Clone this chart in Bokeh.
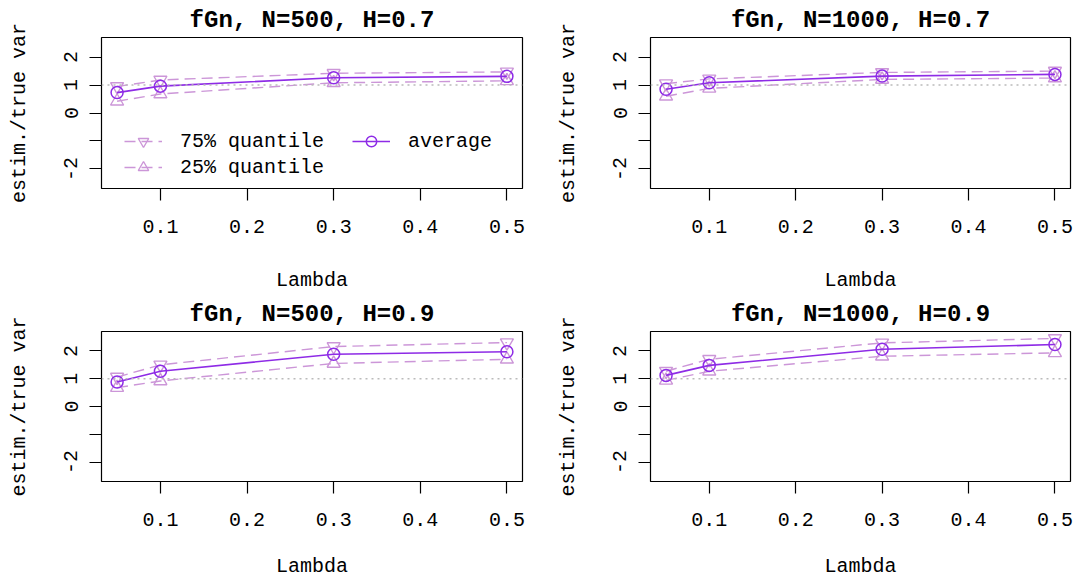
from bokeh.plotting import figure
from bokeh.layouts import gridplot
from bokeh.models import FixedTicker, Span, Legend, LegendItem, Range1d
from bokeh.embed import file_html
from bokeh.resources import INLINE

# ---------------- data ----------------
lam = [0.05, 0.1, 0.3, 0.5]
titles = ["fGn, N=500, H=0.7", "fGn, N=1000, H=0.7",
          "fGn, N=500, H=0.9", "fGn, N=1000, H=0.9"]

avg_500_07 = [0.73, 0.96, 1.26, 1.31]
q75_500_07 = [0.95, 1.18, 1.42, 1.47]
q25_500_07 = [0.42, 0.68, 1.08, 1.15]

avg_1000_07 = [0.85, 1.08, 1.32, 1.38]
q75_1000_07 = [1.05, 1.22, 1.45, 1.50]
q25_1000_07 = [0.60, 0.88, 1.20, 1.25]

avg_500_09 = [0.88, 1.27, 1.88, 1.97]
q75_500_09 = [1.06, 1.50, 2.16, 2.30]
q25_500_09 = [0.68, 0.92, 1.55, 1.70]

avg_1000_09 = [1.12, 1.48, 2.06, 2.23]
q75_1000_09 = [1.27, 1.70, 2.29, 2.45]
q25_1000_09 = [0.94, 1.27, 1.81, 1.93]

x_ticks = [0.1, 0.2, 0.3, 0.4, 0.5]
y_ticks = [-2, -1, 0, 1, 2]
y_tick_labels = {-2: "-2", -1: "", 0: "0", 1: "1", 2: "2"}
ref_level = 1

FONT = "Liberation Mono"
AVG_COL = "#8E2BE6"
Q_COL = "#CC96D8"

panels = [
    (titles[0], avg_500_07, q75_500_07, q25_500_07),
    (titles[1], avg_1000_07, q75_1000_07, q25_1000_07),
    (titles[2], avg_500_09, q75_500_09, q25_500_09),
    (titles[3], avg_1000_09, q75_1000_09, q25_1000_09),
]

# layout (frame positions)
geo = [
    dict(width=538, height=294, left=101, right=16, top=36, bottom=106, lab_so=33),
    dict(width=539, height=294, left=112, right=7, top=36, bottom=106, lab_so=33),
    dict(width=538, height=286, left=101, right=16, top=36, bottom=99, lab_so=26),
    dict(width=539, height=286, left=112, right=7, top=36, bottom=99, lab_so=26),
]

figs = []
for i, (ttl, avg, q75, q25) in enumerate(panels):
    g = geo[i]
    p = figure(width=g["width"], height=g["height"], output_backend="svg",
               toolbar_location=None, tools="",
               x_range=Range1d(0.032, 0.518), y_range=Range1d(-2.7, 2.7),
               min_border_left=g["left"], min_border_right=g["right"],
               min_border_top=g["top"], min_border_bottom=g["bottom"])
    p.title.text = ttl
    p.title.text_font = FONT
    p.title.text_font_size = "24px"
    p.title.text_font_style = "bold"
    p.title.align = "center"
    p.title.standoff = 8
    p.title.text_color = "black"
    p.grid.visible = False
    p.outline_line_color = "black"
    p.outline_line_width = 1.2
    p.background_fill_color = "white"
    p.border_fill_color = "white"

    p.xaxis.ticker = FixedTicker(ticks=x_ticks)
    p.yaxis.ticker = FixedTicker(ticks=y_ticks)
    p.yaxis.major_label_overrides = y_tick_labels
    p.yaxis.major_label_orientation = "vertical"
    for ax in (p.xaxis[0], p.yaxis[0]):
        ax.axis_line_color = None
        ax.major_tick_in = 0
        ax.major_tick_out = 12
        ax.major_tick_line_color = "black"
        ax.major_tick_line_width = 1.2
        ax.minor_tick_line_color = None
        ax.major_label_text_font = FONT
        ax.major_label_text_font_size = "20px"
        ax.major_label_text_color = "black"
        ax.axis_label_text_font = FONT
        ax.axis_label_text_font_size = "20px"
        ax.axis_label_text_font_style = "normal"
        ax.axis_label_text_color = "black"
    p.xaxis.axis_label = "Lambda"
    p.xaxis.major_label_standoff = 19
    p.xaxis.axis_label_standoff = g["lab_so"]
    p.yaxis.axis_label = "estim./true var"
    p.yaxis.major_label_standoff = 12
    p.yaxis.axis_label_standoff = 31

    p.add_layout(Span(location=ref_level, dimension="width",
                      line_color="#BBBBBB", line_dash="2 4", line_width=1.5))

    l75 = p.line(lam, q75, line_color=Q_COL, line_dash="11 6", line_width=1.4)
    s75 = p.scatter(lam, q75, marker="inverted_triangle", size=13,
                    fill_color=None, line_color=Q_COL, line_width=1.4)
    l25 = p.line(lam, q25, line_color=Q_COL, line_dash="11 6", line_width=1.4)
    s25 = p.scatter(lam, q25, marker="triangle", size=13,
                    fill_color=None, line_color=Q_COL, line_width=1.4)
    la = p.line(lam, avg, line_color=AVG_COL, line_width=1.6)
    sa = p.scatter(lam, avg, marker="circle", size=12,
                   fill_color=None, line_color=AVG_COL, line_width=1.5)

    if i == 0:
        common = dict(border_line_color=None, background_fill_alpha=0,
                      padding=0, margin=0, spacing=0,
                      label_text_font=FONT, label_text_font_size="20px",
                      label_text_color="black",
                      label_height=20, glyph_height=26, glyph_width=38,
                      label_standoff=18, label_text_baseline="middle")
        leg1 = Legend(items=[LegendItem(label="75% quantile", renderers=[l75, s75]),
                             LegendItem(label="25% quantile", renderers=[l25, s25])],
                      location=(23, 8), **common)
        leg2 = Legend(items=[LegendItem(label="average", renderers=[la, sa])],
                      location=(251, 34), **common)
        p.add_layout(leg1)
        p.add_layout(leg2)
    figs.append(p)

grid = gridplot([[figs[0], figs[1]], [figs[2], figs[3]]], toolbar_location=None)
open("out.html", "w").write(file_html(grid, INLINE))
